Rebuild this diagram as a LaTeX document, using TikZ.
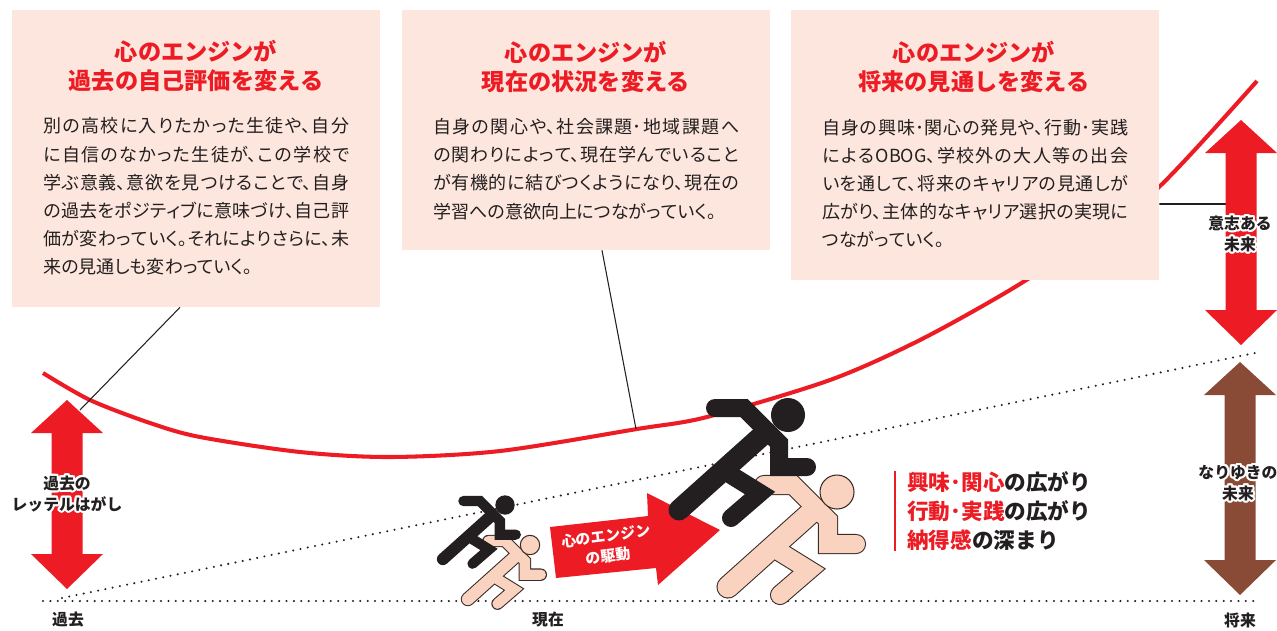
\documentclass[tikz,border=0pt]{standalone}
\usepackage{fontspec}
\setmainfont{Noto Sans CJK JP}
\newfontfamily\bodyfont{Noto Sans CJK JP}[RawFeature=+palt]
\usepackage[copies]{contour}
\contourlength{1.2pt}
\usetikzlibrary{positioning}

% Japanese break points, stretchable so the note lines can be justified
\XeTeXlinebreaklocale "ja"
\XeTeXlinebreakskip=0pt plus 1pt minus 0.4pt

\definecolor{ink}{HTML}{231F20}
\definecolor{enginered}{HTML}{ED1C24}
\definecolor{notefill}{HTML}{FDE6DD}
\definecolor{driftbrown}{HTML}{8A4B36}
\definecolor{runnerpink}{HTML}{FAD3C0}
\definecolor{runneredge}{HTML}{3B2B26}

\tikzstyle{notebox} = [rectangle, minimum width=7.36cm, fill=notefill, inner sep=0pt]
\tikzstyle{boxtitle} = [align=center, inner sep=0pt, text=enginered, font=\fontsize{13.2pt}{16.5pt}\selectfont\bfseries]
\tikzstyle{boxbody} = [align=justify, text width=6.12cm, anchor=west, inner sep=0pt, text=ink, font=\bodyfont\fontsize{10.25pt}{16.05pt}\selectfont]
\tikzstyle{axislabel} = [inner sep=0pt, text=ink, font=\fontsize{9pt}{11pt}\selectfont\bfseries]
\tikzstyle{arrowlabel} = [align=center, inner sep=0pt, text=ink, font=\fontsize{9pt}{12pt}\selectfont\bfseries]
\tikzstyle{growthtext} = [align=left, anchor=west, inner sep=0pt, text=ink, font=\fontsize{12.3pt}{16.6pt}\selectfont\bfseries]
\tikzstyle{dotline} = [ink, line width=1.3pt, line cap=round, dash pattern=on 0pt off 4.2pt]
\tikzstyle{leader} = [ink, line width=0.6pt]

\newcommand{\halo}[1]{\contour{white}{#1}}

% block arrow with a head at both ends: colour, x, top y, bottom y
\newcommand{\vdblarrow}[4]{%
  \fill[#1] (#2,#3) -- (#2+36,#3+33) -- (#2+15.5,#3+33) -- (#2+15.5,#4-35) -- (#2+36,#4-35)
    -- (#2,#4) -- (#2-36,#4-35) -- (#2-15.5,#4-35) -- (#2-15.5,#3+33) -- (#2-36,#3+33) -- cycle;
}

% limbs of the running figure, head at the origin
\newcommand{\runnerlimbs}[2]{%
  \draw[line width={#1*0.36cm+#2}] (-73,-7) -- (-44,-7) -- (-9,28) -- (-9,52) -- (19,52);
  \draw[line width={#1*0.42cm+#2}] (-22,17) -- (-109,95);
  \draw[line width={#1*0.36cm+#2}] (-57,60) -- (-28,78) -- (-57,103);
}
\newcommand{\pinkrunner}[3]{%
  \begin{scope}[shift={(#1,#2)}, scale=#3, line cap=round, line join=miter]
    \begin{scope}[draw=runneredge] \runnerlimbs{#3}{1.2pt} \end{scope}
    \begin{scope}[draw=runnerpink] \runnerlimbs{#3}{0pt} \end{scope}
    \filldraw[fill=runnerpink, draw=runneredge, line width=0.6pt] (0,0) circle[radius=17];
  \end{scope}
}
\newcommand{\blackrunner}[3]{%
  \begin{scope}[shift={(#1,#2)}, scale=#3, line cap=round, line join=miter, draw=ink]
    \runnerlimbs{#3}{0pt}
    \fill[ink] (0,0) circle[radius=17];
  \end{scope}
}

\begin{document}
\begin{tikzpicture}[x=0.02cm, y=-0.02cm]
  \useasboundingbox (0,0) rectangle (1277,630);

  % time axis and the drifting slope
  \coordinate (axisstart) at (43,601);
  \coordinate (axisend) at (1260,601);
  \coordinate (slopestart) at (62,598);
  \coordinate (slopeend) at (1260,352);
  \draw [dotline] (axisstart) -- (axisend);
  \draw [dotline] (slopestart) -- (slopeend);

  % the engine curve
  \draw [enginered, line width=2.3pt] plot[smooth] coordinates {(43,373) (90,400) (150,423) (200,437) (300,452) (390,457) (500,451) (637,429) (707,417) (830,380) (920,340) (1015,287) (1090,237) (1159,187) (1257,81)};

  \coordinate (pastpin) at (80,410);
  \coordinate (nowpin) at (636,429);
  \coordinate (futurepin) at (1239,204);

  \node (pastbox) [notebox, minimum height=5.94cm] at (196,158.5) {};
  \node (nowbox) [notebox, minimum height=4.8cm] at (586,130) {};
  \draw [leader] ([xshift=-0.32cm]pastbox.south) -- (pastpin);
  \draw [leader] ([xshift=0.32cm]nowbox.south) -- (nowpin);
  \node (futurebox) [notebox, minimum height=5.4cm] at (975,145) {};
  \draw [ink, line width=1.1pt] ([yshift=-1.18cm]futurebox.east) -- (futurepin);

  \node (pasttitle) [boxtitle] at (196,66.5) {心のエンジンが\\過去の自己評価を変える};
  \node (pastbody) [boxbody] at (43,196.5) {別の高校に入りたかった生徒や、自分\linebreak に自信のなかった生徒が、この学校で\linebreak 学ぶ意義、意欲を見つけることで、自身\linebreak の過去をポジティブに意味づけ、自己評\linebreak 価が変わっていく。それによりさらに、未\linebreak 来の見通しも変わっていく。};

  \node (nowtitle) [boxtitle] at (586,67) {心のエンジンが\\現在の状況を変える};
  \node (nowbody) [boxbody] at (433,169) {自身の関心や、社会課題･地域課題へ\linebreak の関わりによって、現在学んでいること\linebreak が有機的に結びつくようになり、現在の\linebreak 学習への意欲向上につながっていく。};

  \node (futuretitle) [boxtitle] at (974,67) {心のエンジンが\\将来の見通しを変える};
  \node (futurebody) [boxbody] at (822,183.5) {自身の興味･関心の発見や、行動･実践\linebreak によるOBOG、学校外の大人等の出会\linebreak いを通して、将来のキャリアの見通しが\linebreak 広がり、主体的なキャリア選択の実現に\linebreak つながっていく。};

  % block arrows
  \vdblarrow{enginered}{67}{400}{589}
  \vdblarrow{enginered}{1241}{120}{345}
  \vdblarrow{driftbrown}{1240}{362}{595}
  \fill [enginered] (550,527) -- (648,516) -- (647,493) -- (720,530) -- (658,585) -- (656,568) -- (556,578) -- cycle;
  \node (drivelabel) [white, rotate=7, align=center, inner sep=0pt, font=\fontsize{8.5pt}{11.4pt}\selectfont\bfseries] at (607,546) {心のエンジン\\の駆動};

  \node (pastlabel) [arrowlabel] at (67,495) {\halo{過去の}\\\halo{レッテルはがし}};
  \node (willlabel) [arrowlabel] at (1240,235) {\halo{意志ある}\\\halo{未来}};
  \node (driftlabel) [arrowlabel] at (1238,484) {\halo{なりゆきの}\\\halo{未来}};

  % runners
  \pinkrunner{530}{545}{0.57}
  \blackrunner{505}{505}{0.57}
  \pinkrunner{837}{492}{1}
  \blackrunner{788}{415}{1}

  \node (growth) [growthtext] at (907,511) {{\color{enginered}興味･関心}の広がり\\{\color{enginered}行動･実践}の広がり\\{\color{enginered}納得感}の深まり};
  \draw [enginered, line width=1.4pt] ([xshift=-0.24cm]growth.north west) -- ([xshift=-0.24cm]growth.south west);

  \node (pastmark) [axislabel] at (68,620) {過去};
  \node (nowmark) [axislabel] at (548,620) {現在};
  \node (futuremark) [axislabel] at (1240,620) {将来};
\end{tikzpicture}
\end{document}
